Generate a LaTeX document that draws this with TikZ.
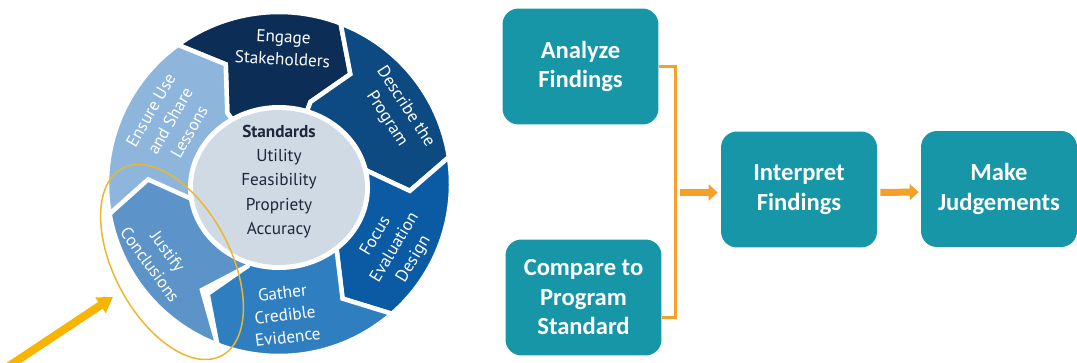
\documentclass[tikz,border=0pt]{standalone}
\usepackage{fontspec}
\setmainfont{Carlito}
\newfontfamily\wheelfont{PT Sans}
\usetikzlibrary{arrows.meta,calc}
\definecolor{engage}{RGB}{12,46,86}
\definecolor{describe}{RGB}{14,74,130}
\definecolor{focus}{RGB}{11,90,164}
\definecolor{gather}{RGB}{47,126,192}
\definecolor{justify}{RGB}{92,148,202}
\definecolor{ensure}{RGB}{142,181,220}
\definecolor{hub}{RGB}{207,218,229}
\definecolor{hubink}{RGB}{28,40,58}
\definecolor{tealbox}{RGB}{22,150,166}
\definecolor{floworange}{RGB}{245,160,40}
\definecolor{hintgold}{RGB}{235,183,45}
\definecolor{pointergold}{RGB}{247,180,0}
\tikzset{
  seg/.style={
    draw=white,
    line width=0.09cm,
    line join=miter
  },
  seglabel/.style={
    text=white,
    font=\wheelfont\fontsize{9.8}{12.6}\selectfont,
    align=center,
    inner sep=0
  },
  stepbox/.style={
    fill=tealbox,
    rounded corners=0.32cm,
    text=white,
    font=\bfseries\fontsize{14}{16.8}\selectfont,
    align=center,
    minimum width=3.12cm,
    minimum height=2.32cm,
    inner sep=0
  },
  flow/.style={
    draw=floworange,
    line width=0.14cm,
    -{Triangle[length=0.18cm,width=0.32cm]}
  },
  bracket/.style={
    draw=floworange,
    line width=0.06cm
  },
  pointer/.style={
    draw=pointergold,
    line width=0.16cm,
    -{Triangle[length=0.3cm,width=0.36cm]}
  }
}

\begin{document}
\begin{tikzpicture}[x=0.02cm,y=0.02cm]
  \useasboundingbox (0,0) rectangle (1077,362);
  % ring of chevrons
  \begin{scope}[shift={(279,178)}]
    \foreach \a/\b/\p/\col in {126/69/12/engage, 69/9/12/describe, 9/-49/12/focus,
                                -49/-111/12/gather, -111/-170/15/justify, 190/126/12/ensure}{
      \path[seg, fill=\col] (\a:172) arc[start angle=\a, end angle=\b, radius=172]
        -- (\b-\p:131) -- (\b:88) -- (\b:70)
        arc[start angle=\b, end angle=\a, radius=70]
        -- (\a:88) -- (\a-\p:131) -- cycle;
    }
  \end{scope}
  % hub
  \fill[white] (279,174.5) ellipse[x radius=91, y radius=82.5];
  \fill[hub] (279,174.5) ellipse[x radius=86, y radius=77.5];
  \node[font=\wheelfont\fontsize{9.8}{13.8}\selectfont, text=hubink, align=center] (standards) at (279,180.5)
    {\textbf{Standards}\\Utility\\Feasibility\\Propriety\\Accuracy};
  \node[seglabel, rotate=-3] (engageLbl) at (283,314) {Engage\\Stakeholders};
  \node[seglabel, rotate=-57] (describeLbl) at (396,249) {Describe the\\Program};
  \node[seglabel, rotate=59] (focusLbl) at (395,114) {Focus\\Evaluation\\Design};
  \node[seglabel, rotate=7] (gatherLbl) at (285,47) {Gather\\Credible\\Evidence};
  \node[seglabel, rotate=-54] (justifyLbl) at (159,104) {Justify\\Conclusions};
  \node[seglabel, rotate=60] (ensureLbl) at (170,241) {Ensure Use\\and Share\\Lessons};
  % highlight
  \draw[hintgold, line width=0.03cm, rotate around={-62:(172,100)}] (172,100) ellipse[x radius=106, y radius=58];
  \coordinate (pointerTail) at (6,-6);
  \coordinate (pointerTip) at (113,65);
  \draw[pointer] (pointerTail) -- (pointerTip);

  % steps
  \node[stepbox] (analyze) at (580.5,295.5) {Analyze\\Findings};
  \node[stepbox] (compare) at (583.5,64.5) {Compare to\\Program\\Standard};
  \node[stepbox] (interpret) at (799,172.5) {Interpret\\Findings};
  \node[stepbox] (judge) at (999,173) {Make\\Judgements};
  \coordinate (join) at (675,169.5);
  \coordinate (cmpPort) at ([yshift=-0.4cm]compare.east);
  \draw[bracket] (analyze.east) -| (join |- cmpPort) -- (cmpPort);
  \draw[flow] ([xshift=0.1cm]join) -- ([xshift=-0.06cm,yshift=-0.06cm]interpret.west);
  \draw[flow] ([xshift=0.06cm,yshift=-0.06cm]interpret.east) -- ([xshift=-0.04cm,yshift=-0.06cm]judge.west);
\end{tikzpicture}
\end{document}
